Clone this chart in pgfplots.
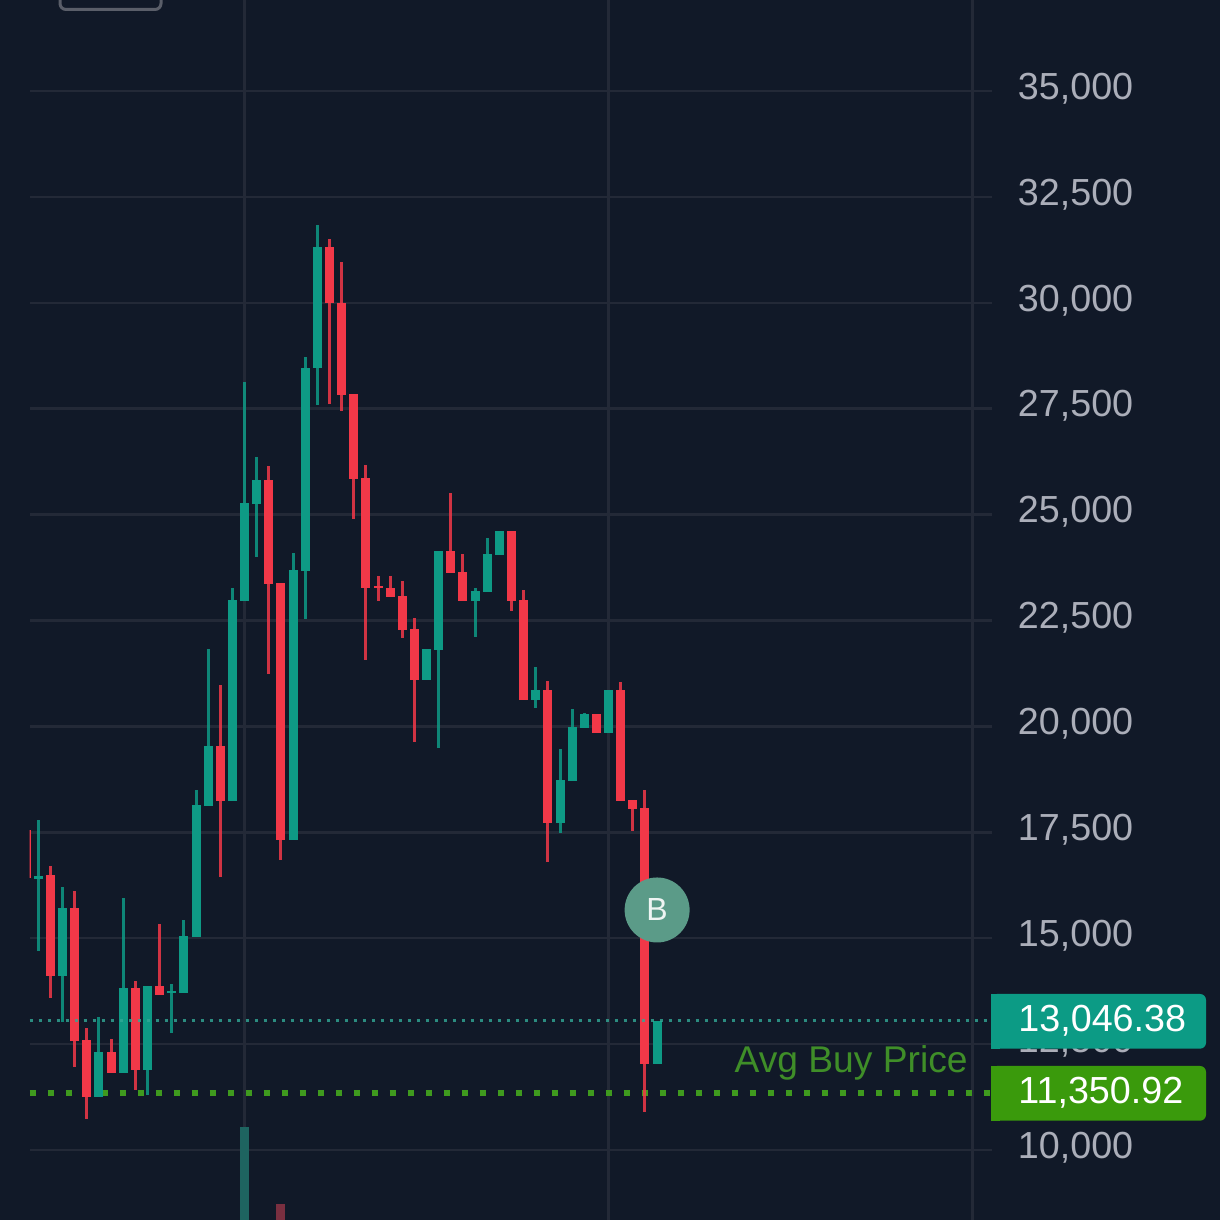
\documentclass[border=0pt]{standalone}
\usepackage{fontspec}
\setmainfont{Liberation Sans}
\usepackage{pgfplots}
\usepackage{pgfplotstable}
\pgfplotsset{compat=1.18}
\definecolor{bg}{HTML}{111928}
\definecolor{gridc}{HTML}{232937}
\definecolor{up}{HTML}{0E9A85}
\definecolor{down}{HTML}{F23848}
\definecolor{ticktxt}{HTML}{ABAEB9}
\definecolor{avg}{HTML}{3F9A1E}
\definecolor{avgtxt}{HTML}{3F8E28}
\definecolor{lastbox}{HTML}{0C9B85}
\definecolor{avgbox}{HTML}{3A9A0C}
\definecolor{bub}{HTML}{5B9B88}
\definecolor{volup}{HTML}{1E6460}
\definecolor{voldown}{HTML}{7A2F40}

\pgfplotstableread{
i high top bot low
-1 17554 17554 16421 16421
1 16704 16492 14108 13588
3 16114 15713 12573 11959
4 12880 12597 11251 10732
6 12620 12313 11818 11818
8 13990 13824 11889 11416
10 15335 13872 13659 13659
15 20977 19537 18239 16445
19 26147 25817 23362 21237
20 23385 23385 17318 16846
24 31506 31317 29995 27611
25 30963 29995 27823 27446
26 27847 27847 25840 24896
27 26171 25864 23267 21567
28 23550 23314 23267 22960
29 23550 23267 23055 23055
30 23432 23078 22276 22087
31 22559 22299 21095 19632
34 25510 24141 23621 23621
35 24070 23645 22960 22960
39 24613 24613 22960 22724
40 23220 22984 20623 20623
42 21072 20859 17719 16799
46 20293 20293 19844 19844
48 21048 20859 18239 18239
49 18262 18262 18050 17531
50 18499 18074 12030 10897
}\reddata

\pgfplotstableread{
i high top bot low
0 17790 16475 16405 14698
2 16209 15713 14108 13022
5 13140 12313 11251 11251
7 15949 13824 11818 11818
9 13872 13872 11889 11298
11 13919 13754 13706 12762
12 15430 15052 13706 13706
13 18499 18144 15028 15028
14 21827 19537 18121 18121
16 23267 22984 18239 18239
17 28130 25274 22960 22960
18 26360 25817 25250 23999
21 24093 23692 17318 17318
22 28720 28461 23668 22535
23 31836 31317 28461 27587
32 21827 21827 21095 21095
33 24141 24141 21804 19490
36 23267 23196 22960 22110
37 24447 24070 23173 23173
38 24613 24613 24046 24046
41 21402 20859 20623 20434
43 19466 18735 17719 17483
44 20411 19986 18711 18711
45 20316 20293 19962 19962
47 20859 20859 19844 19844
51 13046 13046 12030 12030
}\greendata

\pgfplotstableread{
i top bot
17 10543 8347
}\volgreen
\pgfplotstableread{
i top bot
20 8725 8347
}\volred

\pgfplotsset{
  wicks/.style={draw=none, no markers, forget plot,
    error bars/.cd, y dir=both, y explicit, error mark=none,
    error bar style={color=#1, opacity=0.85, line width=1.5pt}},
  bodies/.style={draw=none, no markers, forget plot,
    error bars/.cd, y dir=both, y explicit, error mark=none,
    error bar style={color=#1, line width=4.5pt}},
}

\begin{document}
\begin{tikzpicture}[x=1pt,y=1pt]
\fill[bg] (0,0) rectangle (610,610);
\useasboundingbox (0,0) rectangle (610,610);
\clip (0,0) rectangle (610,610);
\draw[color=gridc!75!white, line width=1.5pt, rounded corners=3pt] (30,605.25) rectangle (80.5,625);
\begin{axis}[
  at={(14.75pt,0pt)}, anchor=south west,
  scale only axis, width=481.25pt, height=610pt,
  xmin=-0.726, xmax=78.6, ymin=8347.5, ymax=37148,
  axis line style={draw=none},
  major tick length=0pt,
  xtick={17,47,77}, xticklabel=\empty,
  ytick={10000,12500,15000,17500,20000,22500,25000,27500,30000,32500,35000},
  scaled y ticks=false,
  grid=major,
  grid style={color=gridc, line width=1.25pt},
  yticklabel pos=right,
  /pgf/number format/assume math mode=true,
  /pgf/number format/fixed,
  /pgf/number format/1000 sep={,},
  yticklabel style={anchor=base west, inner sep=0pt, xshift=12.75pt, yshift=-4.15pt,
    text=ticktxt, font=\fontsize{18.85pt}{20pt}\selectfont},
]
% average buy price line (beneath the candles)
\addplot[forget plot, color=avg, line width=3pt, dash pattern=on 3pt off 6pt]
  coordinates {(-0.726,11350.92)(78.6,11350.92)};
% volume
\addplot[bodies=volup] table[x=i, y expr=(\thisrow{top}+\thisrow{bot})/2, y error expr=(\thisrow{top}-\thisrow{bot})/2] {\volgreen};
\addplot[bodies=voldown] table[x=i, y expr=(\thisrow{top}+\thisrow{bot})/2, y error expr=(\thisrow{top}-\thisrow{bot})/2] {\volred};
% wicks
\addplot[wicks=up] table[x=i, y expr=(\thisrow{high}+\thisrow{low})/2, y error expr=(\thisrow{high}-\thisrow{low})/2] {\greendata};
\addplot[wicks=down] table[x=i, y expr=(\thisrow{high}+\thisrow{low})/2, y error expr=(\thisrow{high}-\thisrow{low})/2] {\reddata};
% bodies
\addplot[bodies=up] table[x=i, y expr=(\thisrow{top}+\thisrow{bot})/2, y error expr=(\thisrow{top}-\thisrow{bot})/2] {\greendata};
\addplot[bodies=down] table[x=i, y expr=(\thisrow{top}+\thisrow{bot})/2, y error expr=(\thisrow{top}-\thisrow{bot})/2] {\reddata};
% last price line
\addplot[forget plot, color=up!85!white, opacity=0.8, line width=1.5pt, dash pattern=on 1.5pt off 3pt]
  coordinates {(-0.726,13046.38)(78.6,13046.38)};
\node[circle, fill=bub, minimum size=32.5pt, inner sep=0pt, text=white!90!bub,
  font=\fontsize{16pt}{18pt}\selectfont] at (axis cs:51,15666) {B};
\end{axis}
\node[anchor=base east, inner sep=0pt, text=avgtxt, font=\fontsize{18.6pt}{20pt}\selectfont] at (484,73.65) {Avg Buy Price};
\fill[lastbox, rounded corners=3pt] (495.5,85.65) rectangle (603,113);
\fill[lastbox] (495.5,85.65) rectangle (500,113);
\fill[avgbox, rounded corners=3pt] (495.5,49.65) rectangle (603,77);
\fill[avgbox] (495.5,49.65) rectangle (500,77);
\node[anchor=base west, inner sep=0pt, text=white, font=\fontsize{18.85pt}{20pt}\selectfont] at (509,94) {13,046.38};
\node[anchor=base west, inner sep=0pt, text=white, font=\fontsize{18.85pt}{20pt}\selectfont] at (509,58.15) {11,350.92};
\end{tikzpicture}
\end{document}
